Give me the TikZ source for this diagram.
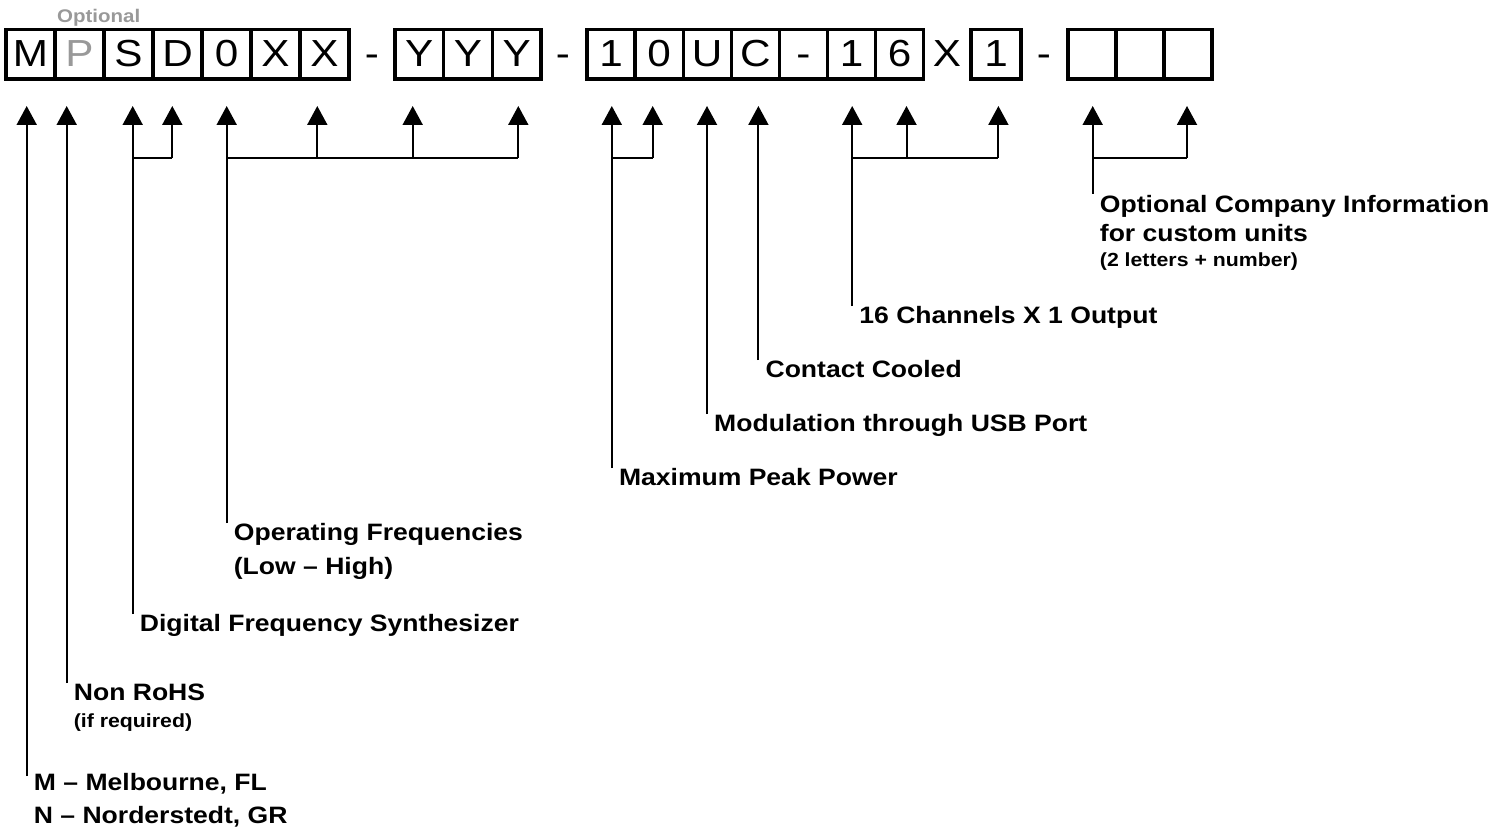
\documentclass[tikz,border=0pt]{standalone}
\usepackage{fontspec}
\setmainfont[FakeStretch=1.12]{Liberation Sans}
\usetikzlibrary{arrows.meta}
\definecolor{optgray}{HTML}{999999}
\begin{document}
\begin{tikzpicture}[x=1pt,y=-1pt,
  cell/.style={draw, line width=3.2pt, minimum height=49.5pt, minimum width=#1, inner sep=0pt,
    text height=24.9pt, text depth=0pt, font=\fontsize{37.7}{40}\selectfont},
  cell/.default=48.5pt,
  free/.style={inner sep=0pt, anchor=base, font=\fontsize{37.7}{40}\selectfont},
  lab/.style={anchor=base west, inner sep=0pt, font=\bfseries\fontsize{23.7}{28}\selectfont},
  sml/.style={anchor=base west, inner sep=0pt, font=\bfseries\fontsize{19}{22}\selectfont},
  arr/.style={line width=2pt, -{Triangle[width=20pt,length=19pt]}},
  bar/.style={line width=2pt}]
\useasboundingbox (0,0) rectangle (1504,829);

% top caption
\node[anchor=base west, inner sep=0pt, text=optgray, font=\bfseries\fontsize{18.3}{20}\selectfont] (opt) at (57,22.5) {Optional};

% group 1
\foreach \x/\t [count=\i] in {30.5/M,79.5/{\color{optgray}P},128.5/S,177.5/D,226.5/0,275.5/X,324.5/X}
  \node[cell=49pt] (g1-\i) at (\x,54.25) {\t};
\node[free] (d1) at (372,66.7) {-};
% group 2
\foreach \x/\t [count=\i] in {419.3/Y,468/Y,516.7/Y}
  \node[cell=48.7pt] (g2-\i) at (\x,54.25) {\t};
\node[free] (d2) at (563,66.7) {-};
% group 3
\foreach \x/\t [count=\i] in {611/1,659.1/0,707.2/U,755.3/C,803.4/-,851.5/1,899.6/6}
  \node[cell=48.1pt] (g3-\i) at (\x,54.25) {\t};
\node[free] (xx) at (947,66.7) {X};
\node[cell=50pt] (g4) at (996,54.25) {1};
\node[free] (d3) at (1044,66.7) {-};
% group 5
\foreach \x [count=\i] in {1092,1140,1188}
  \node[cell=48pt] (g5-\i) at (\x,54.25) {};

% arrow tips
\foreach \x [count=\i] in {26.7,66.7,132.7,172.3,226.7,317.3,412.7,518.3,611.8,652.7,707,758.4,852.2,906.5,998.4,1092.7,1187}
  \coordinate (t\i) at (\x,106);

% labels
\node[lab] (l1a) at (33.7,790) {M – Melbourne, FL};
\node[lab] (l1b) at (33.7,823) {N – Norderstedt, GR};
\node[lab] (l2a) at (73.7,700) {Non RoHS};
\node[sml] (l2b) at (73.7,727) {(if required)};
\node[lab] (l3) at (139.7,631) {Digital Frequency Synthesizer};
\node[lab] (l4a) at (233.7,540) {Operating Frequencies};
\node[lab] (l4b) at (233.7,574) {(Low – High)};
\node[lab] (l5) at (618.8,485) {Maximum Peak Power};
\node[lab] (l6) at (714,431) {Modulation through USB Port};
\node[lab] (l7) at (765.4,377) {Contact Cooled};
\node[lab] (l8) at (859.2,323) {16 Channels X 1 Output};
\node[lab] (l9a) at (1099.7,213) {Optional Company Information};
\node[lab] (l9b) at (1099.7,241.7) {for custom units};
\node[sml] (l9c) at (1099.7,266) {(2 letters + number)};

% line ends near labels
\coordinate (e1) at (26.7,776);
\coordinate (e2) at (66.7,683);
\coordinate (e3) at (132.7,614);
\coordinate (e4) at (226.7,523);
\coordinate (e5) at (611.8,468);
\coordinate (e6) at (707,414);
\coordinate (e7) at (758.4,360);
\coordinate (e8) at (852.2,306);
\coordinate (e9) at (1092.7,194);

% connectors from labels
\draw[arr] (e1) -- (t1);
\draw[arr] (e2) -- (t2);
\draw[arr] (e3) -- (t3);
\draw[arr] (e4) -- (t5);
\draw[arr] (e5) -- (t9);
\draw[arr] (e6) -- (t11);
\draw[arr] (e7) -- (t12);
\draw[arr] (e8) -- (t13);
\draw[arr] (e9) -- (t16);

% grouped branches
\foreach \i in {4,6,7,8,10,14,15,17}
  \draw[arr] (t\i |- 0,158) -- (t\i);
\draw[bar] (t3 |- 0,158) -- (t4 |- 0,158);
\draw[bar] (t5 |- 0,158) -- (t8 |- 0,158);
\draw[bar] (t9 |- 0,158) -- (t10 |- 0,158);
\draw[bar] (t13 |- 0,158) -- (t15 |- 0,158);
\draw[bar] (t16 |- 0,158) -- (t17 |- 0,158);
\end{tikzpicture}
\end{document}
